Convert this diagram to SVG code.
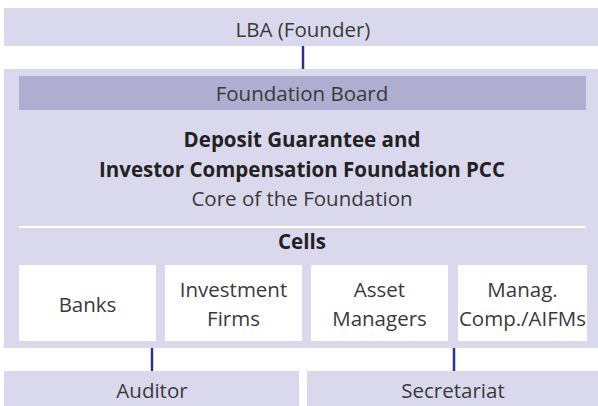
<svg xmlns="http://www.w3.org/2000/svg" width="598" height="406" viewBox="0 0 598 406">
<style>
.box{fill:#dad8ed}
.bar{fill:#afadd0}
.cell{fill:#ffffff}
.t{font-family:"Open Sans","Liberation Sans",sans-serif;font-size:20.5px;fill:#3a3a3a;text-anchor:middle}
.b{font-weight:bold;fill:#222222}
.con{stroke:#2e3192;stroke-width:2.5;fill:none}
</style>
<rect width="598" height="406" fill="#ffffff"/>
<g id="lba">
<rect class="box" x="4" y="8" width="594" height="38"/>
<text class="t" x="303" y="37">LBA (Founder)</text>
</g>
<g id="foundation">
<rect class="box" x="4" y="69" width="594" height="279"/>
<g id="board">
<rect class="bar" x="19" y="76" width="567" height="34"/>
<text class="t" x="302" y="101">Foundation Board</text>
</g>
<g id="core">
<text class="t b" x="302" y="147">Deposit Guarantee and</text>
<text class="t b" x="302" y="177">Investor Compensation Foundation PCC</text>
<text class="t" x="302" y="206">Core of the Foundation</text>
</g>
<rect x="19" y="226" width="567" height="2" fill="#ffffff"/>
<g id="cells">
<text class="t b" x="302" y="249">Cells</text>
</g>
<g id="banks">
<rect class="cell" x="19" y="265" width="137" height="76"/>
<text class="t" x="87.5" y="312">Banks</text>
</g>
<g id="investment">
<rect class="cell" x="165" y="265" width="137" height="76"/>
<text class="t" x="233.5" y="297">Investment</text>
<text class="t" x="233.5" y="326">Firms</text>
</g>
<g id="asset">
<rect class="cell" x="311" y="265" width="137" height="76"/>
<text class="t" x="379.5" y="297">Asset</text>
<text class="t" x="379.5" y="326">Managers</text>
</g>
<g id="manag">
<rect class="cell" x="458" y="265" width="129" height="76"/>
<text class="t" x="522.5" y="297">Manag.</text>
<text class="t" x="522.5" y="326">Comp./AIFMs</text>
</g>
</g>
<g id="connectors">
<line class="con" x1="303" y1="46" x2="303" y2="69"/>
<line class="con" x1="152" y1="348" x2="152" y2="371"/>
<line class="con" x1="454" y1="348" x2="454" y2="371"/>
</g>
<g id="auditor">
<rect class="box" x="4" y="371" width="295" height="35"/>
<text class="t" x="152" y="398">Auditor</text>
</g>
<g id="secretariat">
<rect class="box" x="307" y="371" width="291" height="35"/>
<text class="t" x="453" y="398">Secretariat</text>
</g>
</svg>
